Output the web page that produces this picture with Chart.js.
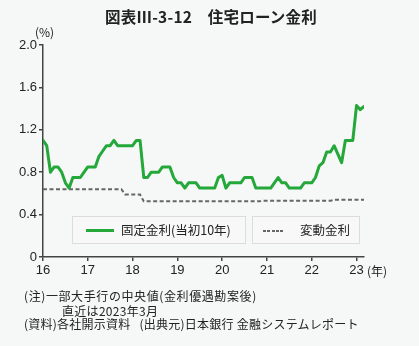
<!DOCTYPE html>
<html><head><meta charset="utf-8">
<script src="https://cdn.jsdelivr.net/npm/chart.js@4"></script>
<style>
html,body{margin:0;padding:0;background:#f6f7f7;}
#wrap{position:relative;width:419px;height:346px;overflow:hidden;font-family:"Noto Sans CJK JP",sans-serif;color:#222;}
canvas{position:absolute;left:0;top:0;}
.t{position:absolute;white-space:nowrap;line-height:1;}
.box{position:absolute;border:1px solid #dcdcdc;background:#f8f8f8;box-sizing:border-box;}
</style></head><body>
<div id="wrap">
<canvas id="c" width="419" height="346"></canvas>
<div class="t" style="left:0;width:422px;text-align:center;top:9px;font-size:15.5px;font-weight:bold;letter-spacing:0.2px;">図表Ⅲ-3-12　住宅ローン金利</div>
<div class="t" style="left:35px;top:26px;font-size:12px;">(%)</div>
<div class="t" style="left:367px;top:265px;font-size:12px;">(年)</div>
<div class="box" style="left:72px;top:216px;width:174px;height:28px;"></div>
<div style="position:absolute;left:86px;top:229px;width:28px;height:3px;background:#25a83a;"></div>
<div class="t" style="left:121px;top:224px;font-size:12.5px;">固定金利(当初10年)</div>
<div class="box" style="left:252px;top:216px;width:108px;height:28px;"></div>
<div style="position:absolute;left:263px;top:230px;width:21px;height:2px;background:repeating-linear-gradient(90deg,#666 0 3px,transparent 3px 4.3px);"></div>
<div class="t" style="left:300px;top:224px;font-size:12.5px;">変動金利</div>
<div class="t" style="left:24px;top:290px;font-size:12px;letter-spacing:0.6px;">(注)一部大手行の中央値(金利優遇勘案後)</div>
<div class="t" style="left:62px;top:305px;font-size:12px;letter-spacing:0.3px;">直近は2023年3月</div>
<div class="t" style="left:24px;top:318px;font-size:12px;letter-spacing:0.25px;">(資料)各社開示資料&nbsp;&nbsp;&nbsp;(出典元)日本銀行 金融システムレポート</div>
</div>
<script>
// Monthly data, Jan 2016 - Mar 2023
const START_YEAR = 16;
const xTickLabels = [16, 17, 18, 19, 20, 21, 22, 23];
const yTickValues = [0, 0.4, 0.8, 1.2, 1.6, 2.0];
const fixedRate = [
  1.10, 1.05, 0.80, 0.85, 0.85, 0.80, 0.70, 0.65, 0.75, 0.75, 0.75, 0.80,
  0.85, 0.85, 0.85, 0.95, 1.00, 1.05, 1.05, 1.10, 1.05, 1.05, 1.05, 1.05,
  1.05, 1.10, 1.10, 0.75, 0.75, 0.80, 0.80, 0.80, 0.85, 0.85, 0.85, 0.75,
  0.70, 0.70, 0.65, 0.70, 0.70, 0.70, 0.65, 0.65, 0.65, 0.65, 0.65, 0.75,
  0.77, 0.65, 0.70, 0.70, 0.70, 0.70, 0.75, 0.75, 0.75, 0.65, 0.65, 0.65,
  0.65, 0.65, 0.70, 0.75, 0.70, 0.70, 0.65, 0.65, 0.65, 0.65, 0.70, 0.70,
  0.70, 0.75, 0.86, 0.89, 0.99, 0.99, 1.05, 0.97, 0.89, 1.10, 1.10, 1.10,
  1.43, 1.39, 1.42
];
const variableRate = [
  0.64, 0.64, 0.64, 0.64, 0.64, 0.64, 0.64, 0.64, 0.64, 0.64, 0.64, 0.64,
  0.64, 0.64, 0.64, 0.64, 0.64, 0.64, 0.64, 0.64, 0.64, 0.64, 0.59, 0.59,
  0.59, 0.59, 0.59, 0.525, 0.525, 0.525, 0.525, 0.525, 0.525, 0.525, 0.525, 0.525,
  0.525, 0.525, 0.525, 0.525, 0.525, 0.525, 0.525, 0.525, 0.525, 0.525, 0.525, 0.525,
  0.525, 0.525, 0.525, 0.525, 0.525, 0.525, 0.525, 0.525, 0.525, 0.525, 0.525, 0.53,
  0.53, 0.53, 0.53, 0.53, 0.53, 0.53, 0.53, 0.53, 0.53, 0.53, 0.53, 0.53,
  0.53, 0.53, 0.53, 0.53, 0.53, 0.53, 0.54, 0.54, 0.54, 0.54, 0.54, 0.54,
  0.54, 0.54, 0.54
];
const GREEN = '#25a83a';
const toPts = arr => arr.map((v, i) => ({x: START_YEAR + i / 12, y: v}));
const axisColor = '#444';
const tickFont = {family: '"Liberation Sans", Arial, sans-serif', size: 13};

new Chart(document.getElementById('c'), {
  type: 'line',
  data: {datasets: [
    {label: '固定金利(当初10年)', data: toPts(fixedRate), borderColor: GREEN, borderWidth: 3,
     pointRadius: 0, tension: 0, borderJoinStyle: 'round', borderCapStyle: 'round'},
    {label: '変動金利', data: toPts(variableRate), borderColor: '#666', borderWidth: 2,
     borderDash: [4, 2.5], pointRadius: 0, tension: 0}
  ]},
  options: {
    responsive: false, animation: false, devicePixelRatio: 1,
    layout: {padding: {left: 0, top: 45, right: 55, bottom: 65}},
    plugins: {legend: {display: false}, tooltip: {enabled: false}, title: {display: false}},
    scales: {
      x: {
        type: 'linear', min: START_YEAR, max: START_YEAR + (fixedRate.length - 1) / 12,
        afterBuildTicks: s => { s.ticks = xTickLabels.map(v => ({value: v})); },
        afterFit: s => { s.height = 24; },
        ticks: {callback: v => String(v), font: tickFont, color: '#222', padding: 2, maxRotation: 0, autoSkip: false},
        grid: {display: true, drawOnChartArea: false, drawTicks: true, tickLength: 4, color: axisColor, lineWidth: 1.5},
        border: {display: true, color: axisColor, width: 1.5}
      },
      y: {
        min: 0, max: 2,
        afterBuildTicks: s => { s.ticks = yTickValues.map(v => ({value: v})); },
        afterFit: s => { s.width = 43; },
        ticks: {callback: v => v === 0 ? '0' : Number(v).toFixed(1), font: tickFont, color: '#222', padding: 2},
        grid: {display: true, drawOnChartArea: false, drawTicks: true, tickLength: 4, color: axisColor, lineWidth: 1.5},
        border: {display: true, color: axisColor, width: 1.5}
      }
    }
  }
});
</script>
</body></html>
